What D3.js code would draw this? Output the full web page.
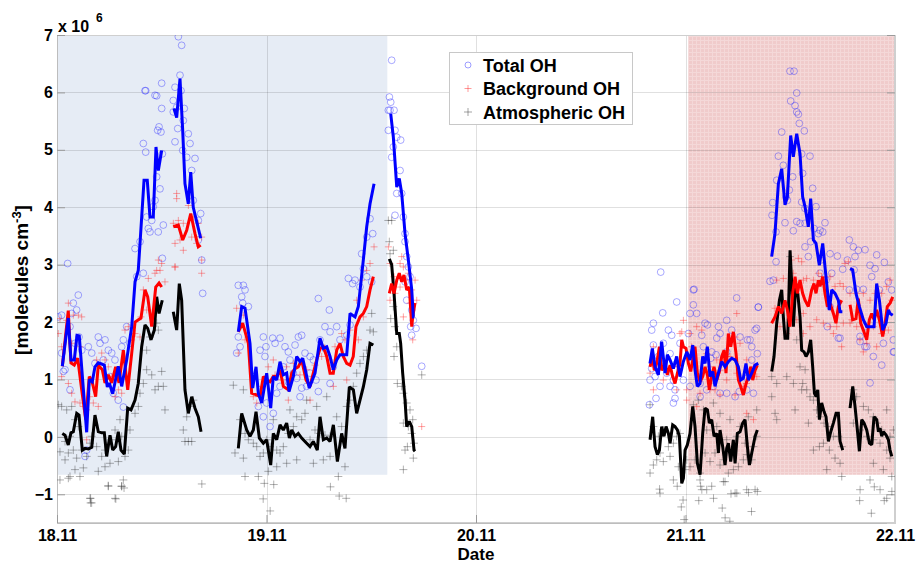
<!DOCTYPE html>
<html><head><meta charset="utf-8">
<script src="https://cdn.jsdelivr.net/npm/d3@7"></script>
<style>
html,body{margin:0;padding:0;background:#fff;}
svg{display:block;font-family:"Liberation Sans",Arial,sans-serif;font-weight:bold;}
</style></head>
<body>
<svg id="chart" width="917" height="563"></svg>
<script>
// ---------- DATA (time in hours since 18.11 00:00, values in 1e6 molecules cm^-3) ----------
const dateTicks = [0, 24, 48, 72, 96];
const dateLabels = ["18.11", "19.11", "20.11", "21.11", "22.11"];
const valueTicks = [-1, 0, 1, 2, 3, 4, 5, 6, 7];
const seriesNames = ["Total OH", "Background OH", "Atmospheric OH"];
// shaded periods [start h, end h, lower value, upper value]
const bluePeriod = [0, 37.84, -0.66, 7];
const redPeriod = [72.3, 96, -0.66, 7];

const totalLine = [
 [0.61,1.23],[1.29,2.07],[1.60,1.34],[1.98,1.34],[2.29,1.77],[2.55,1.76],[3.40,0.08],[3.70,1.00],[4.04,0.96],[4.35,1.22],[4.73,1.29],[5.42,1.25],[5.76,0.87],[5.99,0.94],[6.38,0.75],[7.02,1.23],[7.41,0.88],[7.98,1.34],[8.56,1.92],[8.94,2.70],[9.31,2.90],[9.51,3.37],[9.97,4.47],[10.34,4.47],[10.65,3.83],[11.03,3.83],[11.34,5.05],[11.61,4.64],[11.99,4.99],
 null,
 [13.40,5.72],[13.71,5.56],[14.09,6.24],[14.40,5.34],[14.66,4.41],[15.04,4.06],[15.32,4.61],[15.61,4.00],[16.46,3.46],
 null,
 [20.77,1.83],[21.16,2.27],[21.54,2.24],[22.11,1.63],[22.42,0.85],[22.80,1.22],[23.06,0.76],[23.45,0.59],[24.02,1.11],[24.48,0.50],[24.78,1.05],[25.17,0.99],[25.55,1.31],[25.93,1.08],[26.31,1.11],[26.58,0.79],[27.07,1.05],[27.46,1.40],[27.84,1.31],[28.15,1.37],[28.90,0.85],[29.56,1.11],[30.13,1.72],[30.51,1.54],[30.90,1.57],[31.28,1.40],[31.65,1.17],[32.04,1.34],[32.42,1.43],[33.19,1.43],[33.57,2.15],[34.14,2.09],[34.52,2.27],[35.09,3.08],[35.48,3.66],[35.86,4.06],[36.32,4.41],
 null,
 [38.23,5.63],[38.53,5.22],[38.92,4.35],[39.21,4.50],[39.49,4.24],[39.87,3.54],[40.25,3.08],[40.64,2.56],[40.82,2.09],[40.93,2.09],
 null,
 [67.93,1.28],[68.20,1.54],[68.51,1.22],[68.89,1.08],[69.27,1.66],[69.66,1.11],[69.92,1.43],[70.23,1.34],[70.61,1.19],[70.99,1.40],[71.37,1.05],[71.75,1.31],[72.15,1.48],[72.52,1.34],[72.83,1.60],[73.09,1.17],[73.35,0.88],[73.66,0.93],[73.97,1.40],[74.24,1.28],[74.50,1.57],[74.81,1.05],[75.12,1.14],[75.38,0.88],[75.76,1.11],[76.15,1.31],[76.53,1.22],[76.91,1.31],[77.29,1.37],[77.67,1.34],[78.05,1.22],[78.33,0.99],[78.62,1.02],[78.93,1.28],[79.20,0.99],[79.58,1.11],[79.96,1.25],[80.34,1.28],
 null,
 [81.87,3.14],[82.25,3.54],[82.64,4.41],[83.02,4.67],[83.40,4.04],[83.67,4.18],[84.05,5.25],[84.35,4.88],[84.74,5.28],[85.12,4.93],[85.42,4.18],[85.69,4.01],[86.07,3.66],[86.34,4.15],[86.65,3.43],[86.95,3.37],[87.33,2.99],[87.72,3.37],[87.98,2.96],[88.25,2.56],[88.48,2.21],[88.75,2.56],[89.13,2.50],[89.51,2.38],[89.70,2.18],[89.97,2.18],
 null,
 [90.85,2.93],[91.15,2.91],[91.53,2.50],[91.92,2.27],[92.37,2.04],[92.76,1.92],[93.14,1.92],[93.60,1.92],[93.90,2.67],[94.21,2.38],[94.59,1.86],[94.97,1.98],[95.24,2.21],[95.43,2.15],[95.74,2.12]
];

const backgroundLine = [
 [0.61,1.23],[1.29,2.20],[1.60,1.29],[1.98,1.25],[2.37,1.37],[2.83,0.82],[3.29,0.30],[3.70,1.05],[3.98,0.99],[4.43,0.70],[4.73,1.25],[5.19,1.17],[5.50,0.94],[5.88,1.08],[6.27,0.94],[6.72,1.22],[7.10,0.94],[7.60,1.51],[8.10,0.82],[8.56,1.46],[8.94,2.00],[9.62,2.07],[10.08,2.56],[10.39,2.44],[10.85,1.92],[11.31,2.61],[11.69,2.68],[11.99,2.61],
 null,
 [13.32,3.66],[13.90,3.69],[14.40,3.43],[14.86,3.60],[15.32,3.89],[15.81,3.54],[16.19,3.31],[16.46,3.34],
 null,
 [20.77,1.83],[21.27,1.98],[21.92,1.63],[22.30,0.76],[22.88,0.73],[23.26,0.70],[23.64,1.05],[24.02,0.99],[24.40,0.96],[24.78,1.05],[25.17,1.05],[25.55,1.17],[25.93,0.88],[26.50,0.82],[26.89,1.11],[27.27,1.19],[27.64,1.22],[28.03,1.34],[28.53,0.99],[28.98,0.88],[29.36,1.11],[29.75,1.34],[30.13,1.54],[30.51,1.57],[30.90,1.40],[31.28,1.11],[31.65,1.11],[32.04,1.51],[32.42,1.63],[32.80,1.40],[33.19,1.28],[33.57,1.25],[33.94,1.40],[34.25,1.92],[34.71,2.09],[35.09,2.15],[35.48,2.27],[35.86,2.56],[36.24,2.79],
 null,
 [38.07,2.50],[38.34,2.67],[38.61,2.50],[38.92,2.73],[39.21,2.85],[39.49,2.70],[39.75,2.82],[40.06,2.56],[40.36,2.61],[40.64,1.92],[40.75,2.09],[41.01,2.33],
 null,
 [67.94,1.22],[68.20,1.40],[68.43,1.16],[68.70,1.28],[69.01,1.57],[69.27,1.16],[69.66,1.28],[69.92,1.08],[70.23,1.25],[70.53,1.05],[70.80,0.93],[71.07,1.11],[71.37,1.28],[71.57,1.69],[71.76,1.57],[72.06,1.54],[72.33,1.28],[72.60,1.14],[72.83,1.34],[73.09,1.57],[73.36,1.11],[73.67,0.96],[73.97,1.05],[74.24,1.22],[74.51,1.08],[74.73,0.82],[75.00,1.05],[75.27,1.22],[75.58,0.99],[75.88,1.14],[76.15,1.40],[76.42,1.51],[76.64,1.11],[76.91,1.80],[77.18,1.57],[77.48,1.83],[77.79,1.45],[78.06,0.99],[78.32,0.88],[78.63,0.73],[78.94,0.93],[79.20,1.05],[79.47,1.22],[79.70,0.99],[79.97,1.16],[80.23,1.25],
 null,
 [81.87,1.98],[82.25,2.09],[82.64,2.27],[83.02,2.15],[83.40,2.38],[83.67,2.21],[83.97,1.92],[84.28,2.50],[84.55,2.79],[84.81,2.50],[85.12,2.73],[85.42,2.50],[85.69,2.38],[86.07,2.27],[86.45,2.56],[86.72,2.67],[86.95,2.50],[87.22,2.73],[87.41,2.62],[87.72,2.79],[87.98,2.50],[88.25,2.27],[88.56,2.33],[88.94,2.15],[89.24,1.98],[89.51,2.27],[89.89,2.38],
 null,
 [90.85,2.30],[91.15,2.04],[91.53,2.06],[91.80,2.41],[92.07,1.98],[92.37,1.86],[92.76,1.69],[93.06,2.04],[93.33,2.15],[93.60,2.04],[93.90,2.21],[94.21,2.04],[94.59,1.75],[94.86,1.98],[95.12,2.27],[95.43,2.33],[95.74,2.44]
];

const atmosphericLine = [
 [0.61,0.06],[0.92,0.03],[1.29,-0.14],[1.60,0.07],[1.87,0.09],[2.26,0.41],[2.52,0.38],[2.90,-0.23],[3.21,-0.20],[3.59,-0.21],[3.98,-0.18],[4.35,0.38],[4.73,0.09],[5.12,0.07],[5.42,0.07],[5.69,-0.34],[6.07,0.03],[6.38,-0.23],[6.72,-0.17],[7.02,0.09],[7.33,-0.23],[7.71,-0.30],[8.10,0.50],[8.48,0.47],[8.94,0.64],[9.31,0.93],[9.70,1.57],[10.08,1.95],[10.39,1.89],[10.77,1.69],[11.15,1.86],[11.42,2.44],[11.69,2.15],[12.06,2.38],
 null,
 [13.32,2.18],[13.71,1.86],[14.01,2.67],[14.28,2.38],[14.66,0.82],[15.04,0.41],[15.43,0.70],[15.81,0.50],[16.19,0.35],[16.50,0.09],
 null,
 [20.77,-0.20],[21.16,0.41],[21.73,0.12],[22.11,0.01],[22.49,0.12],[22.80,0.44],[23.18,-0.02],[23.64,-0.11],[24.02,-0.05],[24.48,-0.49],[24.78,0.06],[25.17,-0.05],[25.55,0.21],[25.93,0.12],[26.31,0.24],[26.62,-0.02],[26.89,0.12],[27.27,0.01],[27.64,0.06],[28.03,-0.02],[28.60,-0.11],[28.98,-0.17],[29.36,-0.08],[29.82,-0.23],[30.13,0.35],[30.51,-0.05],[30.90,-0.02],[31.28,-0.08],[31.66,0.21],[32.12,-0.43],[32.61,0.06],[32.99,-0.20],[33.49,0.87],[33.95,0.82],[34.33,0.41],[34.71,0.64],[35.09,0.87],[35.48,1.17],[35.86,1.63],[36.24,1.60],
 null,
 [38.07,3.10],[38.34,3.00],[38.61,2.50],[38.92,1.80],[39.21,1.80],[39.37,1.63],[39.60,1.11],[39.87,0.64],[40.06,0.18],[40.36,0.27],[40.64,0.18],[40.90,-0.23],[41.01,-0.25],
 null,
 [67.94,-0.05],[68.24,0.35],[68.51,-0.17],[68.78,-0.31],[69.01,-0.23],[69.27,0.18],[69.54,0.01],[69.77,0.18],[70.04,0.06],[70.23,-0.11],[70.53,0.21],[70.80,0.18],[71.07,0.12],[71.30,0.01],[71.57,-0.81],[71.76,-0.72],[71.95,-0.23],[72.21,-0.14],[72.52,0.06],[72.83,0.53],[73.09,0.18],[73.36,-0.46],[73.67,-0.66],[73.97,0.06],[74.24,0.50],[74.51,0.47],[74.73,0.24],[75.00,0.30],[75.27,0.01],[75.58,0.06],[75.77,-0.28],[75.96,0.12],[76.26,-0.17],[76.53,-0.49],[76.72,-0.20],[76.91,-0.11],[77.18,-0.43],[77.48,-0.05],[77.68,-0.46],[77.94,0.06],[78.25,0.09],[78.55,0.24],[78.82,0.30],[79.09,-0.17],[79.32,-0.49],[79.59,-0.28],[79.97,0.01],[80.23,0.12],
 null,
 [81.88,1.14],[82.14,1.40],[82.45,1.98],[82.76,2.38],[83.02,2.56],[83.21,2.09],[83.40,1.72],[83.71,1.72],[83.98,3.25],[84.17,2.67],[84.36,1.92],[84.63,2.67],[84.86,2.50],[85.12,2.09],[85.31,1.51],[85.58,1.48],[85.81,1.40],[86.08,1.48],[86.34,1.69],[86.57,1.22],[86.77,0.76],[86.96,0.70],[87.15,0.82],[87.34,0.30],[87.60,0.59],[87.87,0.44],[88.10,0.35],[88.37,-0.08],[88.64,0.09],[88.94,0.24],[89.25,0.41],[89.51,0.41],[89.71,-0.08],[90.01,-0.23],
 null,
 [90.85,0.50],[91.16,0.88],[91.42,0.53],[91.69,0.12],[91.92,-0.25],[92.19,0.30],[92.46,0.24],[92.76,0.12],[93.07,-0.11],[93.33,-0.14],[93.60,0.35],[93.91,0.30],[94.10,0.09],[94.29,0.15],[94.48,0.01],[94.67,0.09],[94.98,0.03],[95.24,-0.05],[95.43,-0.23],[95.63,-0.34]
];

const totalPoints = [
 [0.15,2.09],[0.53,2.12],[1.22,3.02],[2.44,2.47],[2.25,2.21],[1.68,2.15],[1.49,1.92],[1.87,2.33],[2.06,1.63],[2.52,1.74],[2.83,1.51],[3.59,1.57],[3.98,1.46],[4.35,1.28],[4.73,1.74],[4.93,1.63],[5.50,1.69],[5.88,1.51],[5.31,1.34],[6.27,1.46],[6.64,1.34],[6.84,1.11],[7.41,1.57],[7.60,1.69],[6.07,1.05],[6.45,0.76],[7.02,0.64],[7.60,0.52],[3.21,-0.34],[3.40,-0.23],[1.49,0.82],[0.92,1.17],[0.53,1.46],[0.73,1.14],[7.98,1.92],[8.36,1.63],[8.94,3.28],[9.51,3.40],[9.89,5.11],[10.16,4.96],[10.27,3.83],[10.46,3.63],[10.65,3.57],[10.85,3.77],[11.03,4.01],[11.23,4.12],[11.42,4.53],[11.23,5.95],[11.53,5.34],[11.69,5.40],[11.91,5.31],[11.99,6.16],[11.99,5.72],[11.80,4.32],[12.07,4.93],[12.18,3.69],[12.07,3.11],[11.60,3.57],[10.08,6.03],[9.13,2.79],[9.89,2.85],[13.32,5.86],[13.52,6.09],[13.71,5.74],[14.09,6.30],[14.21,6.03],[14.47,5.51],[14.58,5.72],[14.40,4.99],[13.52,5.14],[15.04,5.28],[15.24,5.11],[15.81,4.85],[15.43,4.64],[14.86,4.87],[15.61,4.12],[16.19,3.43],[16.58,3.08],[16.69,2.50],[16.46,3.89],[16.19,3.77],[13.32,5.66],[13.83,5.37],[13.90,6.97],[14.28,6.82],[10.16,6.03],[11.42,5.94],
 [20.77,2.64],[21.35,2.64],[21.54,2.56],[21.16,2.44],[21.27,2.33],[21.92,2.27],[20.77,1.74],[20.97,1.57],[20.58,1.46],[23.64,1.74],[24.71,1.72],[24.98,1.63],[25.55,1.72],[23.94,1.57],[23.26,1.51],[23.83,1.40],[26.12,1.57],[26.50,1.48],[27.65,1.74],[28.03,1.77],[27.27,1.60],[28.41,1.46],[28.99,1.40],[29.94,2.41],[30.13,1.69],[31.20,2.21],[30.70,1.92],[31.28,1.83],[32.04,1.92],[32.42,1.69],[33.19,1.77],[33.57,1.95],[33.87,2.67],[33.38,2.76],[34.14,2.73],[34.71,2.61],[35.10,2.93],[35.48,3.48],[35.86,3.80],[36.17,3.54],[34.90,3.19],[35.48,2.79],[36.05,2.70],[24.02,0.59],[24.40,0.18],[23.64,0.35],[23.07,0.53],[25.55,0.88],[26.50,0.96],[27.46,1.02],[28.03,0.85],[28.99,1.11],[29.67,0.99],[26.69,1.34],[27.08,1.11],[25.93,1.22],[25.17,0.76],[24.78,0.41],[27.84,0.70],[28.60,0.88],[29.94,0.79],[31.66,1.22],[31.28,0.93],[30.70,1.54],[29.37,1.34],
 [38.08,5.92],[38.23,5.83],[37.96,5.69],[38.61,5.69],[37.96,5.34],[38.72,5.34],[38.92,5.22],[38.53,5.05],[39.37,5.17],[38.34,4.87],[39.30,4.64],[38.92,4.24],[39.49,4.24],[38.72,3.86],[39.68,3.83],[39.87,3.54],[39.87,3.40],[40.06,3.14],[40.25,2.96],[40.44,2.79],[39.87,2.70],[40.06,2.38],[40.63,2.21],[40.82,2.03],[40.52,1.92],[41.13,1.89],[40.63,1.77],[41.78,1.23],[38.34,6.56],[38.15,5.69],
 [69.16,2.87],[70.99,2.35],[69.39,2.16],[72.98,2.57],[77.86,2.42],[80.34,2.26],[72.90,2.56],[68.32,1.98],[68.13,1.86],[70.04,1.86],[70.42,1.77],[72.90,2.30],[73.28,2.15],[74.24,1.98],[74.51,1.95],[73.86,1.77],[75.77,1.92],[76.72,2.03],[77.29,1.86],[75.96,1.80],[75.58,1.72],[74.89,1.37],[75.50,1.43],[78.25,1.74],[79.09,1.69],[79.59,1.57],[79.97,1.86],[80.23,1.45],[79.59,1.34],[72.52,2.15],[72.33,1.80],[74.05,1.57],[75.00,1.48],[76.72,1.48],[68.32,1.60],[68.89,1.40],[69.46,1.22],[69.85,1.11],[68.51,1.05],[67.94,0.99],[70.61,0.99],[70.23,0.88],[69.08,0.88],[70.80,0.82],[71.76,0.99],[72.52,0.88],[73.67,0.93],[74.43,0.82],[75.19,0.88],[75.96,0.76],[76.72,0.76],[77.68,0.70],[78.17,0.79],[79.01,0.82],[79.78,0.76],[68.62,0.67],[67.86,0.56],[70.80,0.67],[70.61,0.59],[73.67,0.70],[79.01,1.02],[68.13,1.19],[70.23,1.45],[71.37,1.63],[69.46,1.63],[70.99,1.28],
 [83.97,6.37],[84.43,6.37],[84.74,5.99],[84.05,5.85],[84.55,5.77],[84.74,5.66],[84.93,5.62],[85.04,5.46],[85.61,5.33],[83.02,5.31],[82.64,4.89],[83.21,4.73],[82.45,4.47],[81.99,4.08],[81.91,3.86],[83.51,4.18],[83.67,4.12],[83.90,4.30],[84.28,4.53],[85.31,4.93],[85.42,4.59],[86.26,4.89],[86.57,4.33],[86.95,4.01],[85.31,4.09],[85.69,3.98],[84.74,3.75],[85.12,3.72],[85.69,3.72],[87.98,3.73],[87.72,3.57],[87.41,3.60],[86.72,3.63],[86.34,3.40],[87.22,3.54],[84.35,3.59],[83.40,3.73],[82.37,3.57],[82.37,3.05],[82.06,2.73],[81.68,2.71],[86.07,3.14],[85.69,3.31],[87.49,3.08],[88.56,3.19],[89.40,3.15],[90.01,2.92],[88.75,2.85],[87.41,2.85],[88.10,2.73],[90.77,3.43],[91.23,3.31],[91.80,3.25],[92.57,3.26],[90.54,3.08],[91.42,3.14],[91.31,2.91],[93.90,3.17],[94.78,3.04],[93.14,2.99],[93.71,2.93],[93.33,2.79],[92.37,2.57],[91.61,2.57],[90.77,2.56],[94.21,2.56],[95.24,2.70],[95.62,2.56],[88.56,2.27],[88.25,1.92],[89.70,1.72],[91.99,1.75],[92.76,1.57],[92.57,1.92],[94.67,1.63],[95.81,1.69],[95.89,1.48],[80.34,2.26],[80.15,1.89],[79.39,1.69],[89.51,1.72],[91.99,1.66],[92.56,1.57],[93.52,1.40],[94.48,1.25],[93.14,0.94],[95.81,1.48]
];

const backgroundPoints = [
 [0.34,2.06],[0.15,1.80],[0.53,1.57],[1.30,2.33],[1.11,2.03],[1.87,2.12],[2.44,2.12],[2.83,2.09],[1.68,1.63],[2.63,1.57],[0.53,1.05],[1.30,0.93],[1.68,0.76],[2.06,0.61],[2.63,0.59],[3.02,0.53],[3.40,0.47],[3.40,-0.05],[3.78,0.70],[4.16,0.59],[4.73,0.53],[4.54,1.34],[5.12,1.46],[5.50,1.34],[5.88,1.22],[6.26,1.05],[6.65,0.70],[7.03,0.82],[7.41,0.76],[7.79,1.86],[8.17,1.92],[8.55,1.69],[8.94,1.80],[9.51,1.74],[9.89,2.56],[10.46,2.76],[11.23,2.85],[11.42,2.90],[11.99,3.02],[12.37,2.70],[13.52,2.96],[10.27,2.21],[11.23,2.21],[9.62,2.09],
 [13.71,4.24],[13.71,4.15],[13.33,3.72],[13.90,3.77],[14.47,3.72],[13.52,3.37],[14.09,3.43],[14.47,3.25],[15.05,4.03],[15.62,3.83],[16.19,3.72],[16.57,3.48],[16.57,3.08],[16.57,2.85],[16.00,3.37],[15.43,3.48],[13.52,2.96],[11.80,2.90],[11.61,3.08],
 [20.58,2.24],[21.35,2.12],[20.77,1.46],[21.54,1.69],[22.49,0.70],[22.88,0.59],[23.45,0.88],[24.21,1.22],[24.98,1.08],[25.74,0.99],[26.31,1.22],[27.08,1.28],[27.84,1.08],[28.60,1.17],[29.56,1.25],[30.32,1.40],[31.28,1.34],[31.85,1.57],[32.61,1.80],[32.99,1.69],[33.57,1.86],[34.33,2.38],[34.90,2.73],[35.48,2.90],[35.86,3.02],[36.32,3.31],[35.10,2.09],[34.52,1.69],[28.99,0.64],[26.50,0.64],[24.78,1.34],[33.19,0.99],[31.66,0.88],
 [37.96,3.31],[38.15,3.02],[38.61,2.79],[39.30,3.02],[39.49,3.14],[39.68,2.96],[39.98,2.73],[40.25,2.85],[40.63,2.56],[41.02,2.73],[41.21,2.38],[40.44,2.33],[40.75,1.69],[39.30,2.61],[38.72,2.50],[38.15,2.38],[39.68,2.09],[41.78,0.18],
 [68.32,1.57],[69.08,1.40],[69.85,1.34],[70.99,1.22],[71.76,2.03],[71.57,1.83],[72.71,1.57],[73.28,1.92],[74.43,1.45],[75.58,1.34],[75.96,1.16],[76.72,1.40],[77.10,1.40],[77.68,1.74],[77.87,2.15],[78.25,1.63],[79.01,1.34],[79.78,1.22],[80.16,1.05],[77.87,1.11],[76.72,0.99],[74.81,0.82],[73.67,0.76],[72.14,0.82],[70.99,0.82],[69.46,0.99],[68.32,0.82],[67.94,1.11],[71.37,1.80],[72.52,1.80],[73.86,1.86],[74.81,1.22],[75.38,0.82],[75.96,0.73],[77.68,0.73],[78.63,0.88],[79.01,0.93],[79.01,0.41],[79.78,0.30],[73.28,0.53],[72.14,0.64],
 [82.45,2.73],[83.21,2.76],[84.16,3.08],[84.93,3.11],[85.31,3.05],[84.35,2.85],[85.50,2.73],[85.88,2.76],[86.65,2.73],[87.22,2.85],[87.60,2.79],[87.98,2.73],[88.56,2.79],[89.13,2.62],[89.70,2.67],[90.27,3.02],[90.66,3.05],[90.08,2.62],[90.85,2.50],[91.61,2.50],[92.37,2.50],[93.14,2.38],[93.71,2.50],[94.48,2.50],[95.05,2.62],[95.43,2.73],[95.62,2.38],[82.25,2.24],[83.21,2.27],[83.97,2.04],[84.74,2.04],[85.50,2.15],[86.26,1.92],[87.03,2.04],[87.79,1.98],[88.56,1.92],[89.32,1.92],[90.08,1.98],[90.85,1.98],[91.61,1.92],[91.99,1.69],[92.76,1.63],[93.52,1.92],[94.48,1.80],[95.24,1.86],[82.83,1.92],[83.59,1.80],[85.50,1.80],[88.94,1.80],[89.89,1.57],[91.04,2.04],[92.37,1.48],[93.90,1.57]
];

const atmosphericPoints = [
 [0.15,0.56],[0.53,0.53],[1.11,0.47],[1.68,0.53],[2.06,0.30],[2.44,0.18],[1.49,0.01],[0.92,-0.08],[0.34,-0.26],[1.30,-0.28],[1.87,-0.23],[0.92,-0.40],[2.25,-0.37],[2.83,-0.23],[3.40,-0.34],[3.97,0.01],[3.78,-0.11],[4.54,-0.17],[5.12,-0.34],[5.50,-0.23],[5.88,-0.11],[6.26,-0.05],[6.65,0.12],[7.22,0.30],[7.41,0.01],[7.79,-0.34],[8.17,-0.23],[7.03,-0.43],[6.07,-0.46],[5.50,-0.52],[4.73,-0.60],[3.02,-0.54],[2.63,-0.69],[1.49,-0.69],[0.34,-0.75],[1.30,-0.72],[2.06,-0.57],[5.88,-0.86],[7.60,-0.75],[7.41,-0.86],[6.65,-1.07],[3.78,-1.07],[3.97,-1.15],[8.36,0.12],[8.94,0.41],[9.32,0.53],[9.51,0.76],[9.89,0.93],[10.27,1.17],[10.85,1.08],[11.23,0.82],[11.61,0.88],[11.99,1.14],[12.18,0.88],[12.37,0.47],[10.27,1.51],[10.65,1.74],[11.42,1.98],[11.61,1.86],[14.66,-0.08],[15.05,-0.08],[15.43,-0.08],[14.47,0.12],[14.86,0.35],[15.24,0.53],[15.62,0.64],
 [3.85,-1.07],[3.85,-1.15],[5.87,-0.85],[6.74,-1.08],[7.40,-0.86],[7.68,-0.89],[16.59,-0.82],[23.62,-1.08],[23.75,-0.81],[24.83,-0.83],[24.42,-1.29],[31.32,-0.87],[32.33,-1.03],[33.13,-1.07],
 [20.20,0.90],[21.35,0.82],[20.97,0.30],[21.54,0.06],[20.39,-0.28],[21.35,-0.37],[21.92,-0.05],[22.49,-0.11],[22.88,-0.17],[23.26,-0.34],[23.64,-0.28],[24.02,-0.05],[24.40,-0.17],[25.17,-0.23],[25.55,-0.28],[25.93,-0.17],[26.50,0.06],[27.08,0.18],[27.46,0.35],[28.03,0.30],[28.41,0.41],[28.99,-0.05],[29.56,0.12],[30.13,0.06],[30.70,0.03],[31.28,0.01],[32.04,0.35],[32.61,0.18],[33.19,0.53],[33.57,0.64],[33.95,0.88],[34.33,1.11],[34.71,1.28],[35.10,1.40],[35.48,1.51],[35.86,1.86],[36.24,1.83],[36.05,2.15],[31.28,-0.34],[30.51,-0.40],[29.37,-0.46],[27.46,-0.40],[26.31,-0.46],[25.17,-0.52],[24.21,-0.60],[23.07,-0.69],[21.54,-0.69],[32.99,-0.52],[32.23,-0.69],[30.90,0.70],[29.75,0.53],[28.60,0.64],[26.69,0.47],[24.78,0.30],
 [37.96,3.77],[38.34,3.77],[38.07,3.40],[38.15,3.19],[38.53,3.25],[38.23,2.06],[38.53,2.27],[38.72,1.92],[38.61,1.40],[38.92,1.57],[38.99,0.93],[39.49,0.88],[39.68,0.76],[40.06,0.59],[40.44,0.47],[40.75,0.30],[39.68,0.24],[40.25,0.18],[40.63,0.06],[40.90,-0.11],[39.87,-0.23],[40.82,-0.37],[41.78,1.08],[39.68,-0.57],[40.14,-0.17],
 [67.94,-0.63],[68.32,-0.49],[68.70,-0.40],[69.08,-0.28],[69.46,-0.43],[70.04,-0.17],[70.61,-0.11],[70.99,0.01],[71.37,0.06],[67.94,0.56],[68.32,0.18],[68.89,0.01],[69.46,0.12],[70.23,-0.34],[71.18,-0.52],[72.14,-0.40],[72.52,-0.52],[73.09,-0.40],[73.67,-0.63],[74.24,-0.28],[74.81,-0.43],[75.38,-0.28],[75.96,-0.49],[76.34,-0.40],[76.91,-0.63],[77.48,-0.57],[78.06,-0.52],[78.63,-0.40],[79.01,-0.31],[79.59,-0.40],[80.16,0.01],[73.47,0.64],[74.43,0.12],[75.58,0.18],[76.72,-0.05],[77.87,0.01],[78.82,-0.11],[79.78,-0.17],[73.67,-0.75],[74.43,-0.92],[75.00,-0.86],[76.34,-0.78],[77.68,-0.98],[79.01,-0.92],[79.97,-0.92],[72.90,0.56],[74.05,0.47],[75.19,0.59],[75.96,0.41],[77.10,0.30],[78.25,0.18],[79.20,0.35],[80.16,0.47],[69.08,-0.98],[70.61,-0.75],[71.95,-0.57],
 [69.03,-0.91],[71.05,-0.86],[71.72,-1.10],[71.52,-1.22],[71.85,-1.44],[73.52,-1.11],[73.73,-0.86],[73.87,-0.92],[75.21,-1.07],[76.21,-1.24],[76.54,-1.41],[77.08,-1.47],[77.21,-0.99],[77.88,-0.98],[79.22,-0.97],[79.56,-1.30],[80.23,-0.95],[76.53,-0.78],
 [81.88,0.70],[82.26,0.41],[82.45,0.93],[83.60,1.05],[83.98,3.14],[84.36,2.50],[84.74,1.69],[85.12,1.22],[85.43,0.93],[85.70,1.17],[85.89,0.82],[85.31,0.82],[86.27,0.70],[86.65,0.64],[87.03,0.47],[87.41,0.35],[87.87,0.24],[88.37,0.18],[88.94,0.01],[89.51,0.01],[89.90,-0.17],[87.34,-0.17],[87.80,-0.11],[88.48,-0.23],[89.13,-0.37],[89.71,-0.46],[88.18,-0.57],[89.90,-0.69],[91.23,0.82],[91.61,0.70],[92.38,0.53],[92.95,0.47],[93.52,0.35],[93.91,0.24],[94.48,0.12],[95.05,0.47],[95.43,0.01],[95.82,0.12],[91.23,0.24],[92.00,0.12],[92.76,0.01],[93.52,-0.05],[94.29,-0.11],[95.05,-0.23],[95.43,-0.37],[93.52,-0.46],[94.67,-0.57],[93.14,-0.75],[92.00,-0.92],[94.29,-0.92],[95.05,-1.07],[95.63,-0.69],[82.45,0.30],[84.55,0.47],[86.08,0.24],[86.65,-0.23],[81.88,1.05],[84.36,0.93],
 [91.95,-1.11],[93.29,-1.33],[93.63,-0.87],[94.77,-1.11],[95.64,-0.95]
];

// ---------- DRAWING ----------
const svg = d3.select("#chart");
const plot = {left: 57, right: 895, top: 35, bottom: 523};
const x = d3.scaleLinear().domain([0, 96]).range([plot.left, plot.right]);
const y = d3.scaleLinear().domain([-1.5, 7]).range([plot.bottom, plot.top]);

const defs = svg.append("defs");
const pat = defs.append("pattern").attr("id", "redgrid").attr("patternUnits", "userSpaceOnUse")
  .attr("width", 4).attr("height", 4);
pat.append("rect").attr("width", 4).attr("height", 4).attr("fill", "#f0cbcb");
pat.append("path").attr("d", "M0,0.5H4M0.5,0V4").attr("stroke", "#f4d8d8").attr("stroke-width", 1);
defs.append("clipPath").attr("id", "clip").append("rect")
  .attr("x", plot.left).attr("y", plot.top).attr("width", plot.right - plot.left).attr("height", plot.bottom - plot.top);

// shaded periods
svg.append("rect").attr("x", x(bluePeriod[0])).attr("y", y(bluePeriod[3]))
  .attr("width", x(bluePeriod[1]) - x(bluePeriod[0])).attr("height", y(bluePeriod[2]) - y(bluePeriod[3]))
  .attr("fill", "#e6ecf5");
svg.append("rect").attr("x", x(redPeriod[0])).attr("y", y(redPeriod[3]))
  .attr("width", x(redPeriod[1]) - x(redPeriod[0])).attr("height", y(redPeriod[2]) - y(redPeriod[3]))
  .attr("fill", "url(#redgrid)");

// grid lines
const grid = svg.append("g").attr("stroke", "#000").attr("stroke-opacity", 0.12).attr("stroke-width", 1);
valueTicks.forEach(v => grid.append("line").attr("x1", plot.left).attr("x2", plot.right)
  .attr("y1", Math.round(y(v)) + 0.5).attr("y2", Math.round(y(v)) + 0.5));
dateTicks.forEach(t => grid.append("line").attr("y1", plot.top).attr("y2", plot.bottom)
  .attr("x1", Math.round(x(t)) + 0.5).attr("x2", Math.round(x(t)) + 0.5));

// frame
svg.append("rect").attr("x", plot.left + 0.5).attr("y", plot.top + 0.5)
  .attr("width", plot.right - plot.left - 1).attr("height", plot.bottom - plot.top - 1)
  .attr("fill", "none").attr("stroke", "#cfcfcf").attr("stroke-width", 1);

// axes with inward ticks
const yAxis = d3.axisLeft(y).tickValues(valueTicks).tickSize(-8).tickPadding(4).tickFormat(d3.format("d"));
const gy = svg.append("g").attr("transform", `translate(${plot.left},0)`).call(yAxis);
const xAxis = d3.axisBottom(x).tickValues(dateTicks).tickSize(-8).tickPadding(7).tickFormat((d, i) => dateLabels[i]);
const gx = svg.append("g").attr("transform", `translate(0,${plot.bottom})`).call(xAxis);
[gx, gy].forEach(g => {
  g.select(".domain").attr("stroke", "#bdbdbd");
  g.selectAll(".tick line").attr("stroke", "#9a9a9a");
  g.selectAll(".tick text").attr("fill", "#000").style("font-size", "16px").style("font-weight", "bold")
    .style("font-family", "'Liberation Sans', Arial, sans-serif");
});
// right-side ticks
const gr = svg.append("g").attr("transform", `translate(${plot.right},0)`)
  .call(d3.axisRight(y).tickValues(valueTicks).tickSize(-8).tickFormat(""));
gr.select(".domain").attr("stroke", "#cfcfcf");
gr.selectAll(".tick line").attr("stroke", "#9a9a9a");

// scatter
const body = svg.append("g").attr("clip-path", "url(#clip)");
body.append("g").selectAll("circle").data(totalPoints).join("circle")
  .attr("cx", d => x(d[0])).attr("cy", d => y(d[1])).attr("r", 3.4)
  .attr("fill", "none").attr("stroke", "#2a2aff").attr("stroke-opacity", 0.45).attr("stroke-width", 0.9);
body.append("g").selectAll("path").data(backgroundPoints).join("path")
  .attr("d", d => `M${x(d[0]) - 3.5},${y(d[1])}H${x(d[0]) + 3.5}M${x(d[0])},${y(d[1]) - 3.5}V${y(d[1]) + 3.5}`)
  .attr("stroke", "#ff2020").attr("stroke-opacity", 0.4).attr("stroke-width", 1);
body.append("g").selectAll("path").data(atmosphericPoints).join("path")
  .attr("d", d => `M${x(d[0]) - 4},${y(d[1])}H${x(d[0]) + 4}M${x(d[0])},${y(d[1]) - 4}V${y(d[1]) + 4}`)
  .attr("stroke", "#333").attr("stroke-opacity", 0.38).attr("stroke-width", 1);

// lines
const line = d3.line().defined(d => d !== null).x(d => x(d[0])).y(d => y(d[1]));
[[atmosphericLine, "#000000"], [backgroundLine, "#ff0000"], [totalLine, "#0000ff"]].forEach(([data, col]) => {
  body.append("path").datum(data).attr("d", line).attr("fill", "none")
    .attr("stroke", col).attr("stroke-width", 3).attr("stroke-linejoin", "miter").attr("stroke-miterlimit", 2);
});

// exponent
svg.append("text").attr("x", 58).attr("y", 32).style("font-size", "16px").text("x 10");
svg.append("text").attr("x", 96).attr("y", 22).style("font-size", "12px").text("6");

// axis labels
svg.append("text").attr("x", x(48)).attr("y", 560).attr("text-anchor", "middle").style("font-size", "17px").text("Date");
const yl = svg.append("text").attr("transform", `translate(28,280) rotate(-90)`).attr("text-anchor", "middle").style("font-size", "19px");
yl.append("tspan").text("[molecules cm");
yl.append("tspan").attr("dy", -7).style("font-size", "13px").text("-3");
yl.append("tspan").attr("dy", 7).text("]");

// legend
const lg = svg.append("g");
lg.append("rect").attr("x", 449.5).attr("y", 52.5).attr("width", 183).attr("height", 72)
  .attr("fill", "#fff").attr("stroke", "#c8c8c8");
const rows = [65, 88.5, 112];
lg.append("circle").attr("cx", 468).attr("cy", rows[0]).attr("r", 3).attr("fill", "none")
  .attr("stroke", "#2a2aff").attr("stroke-opacity", 0.5).attr("stroke-width", 0.9);
lg.append("path").attr("d", `M464.5,${rows[1]}H471.5M468,${rows[1] - 3.5}V${rows[1] + 3.5}`)
  .attr("stroke", "#ff2020").attr("stroke-opacity", 0.45);
lg.append("path").attr("d", `M464,${rows[2]}H472M468,${rows[2] - 4}V${rows[2] + 4}`)
  .attr("stroke", "#333").attr("stroke-opacity", 0.45);
seriesNames.forEach((n, i) => lg.append("text").attr("x", 483).attr("y", rows[i] + 6.5)
  .style("font-size", "18px").text(n));
</script>
</body></html>
